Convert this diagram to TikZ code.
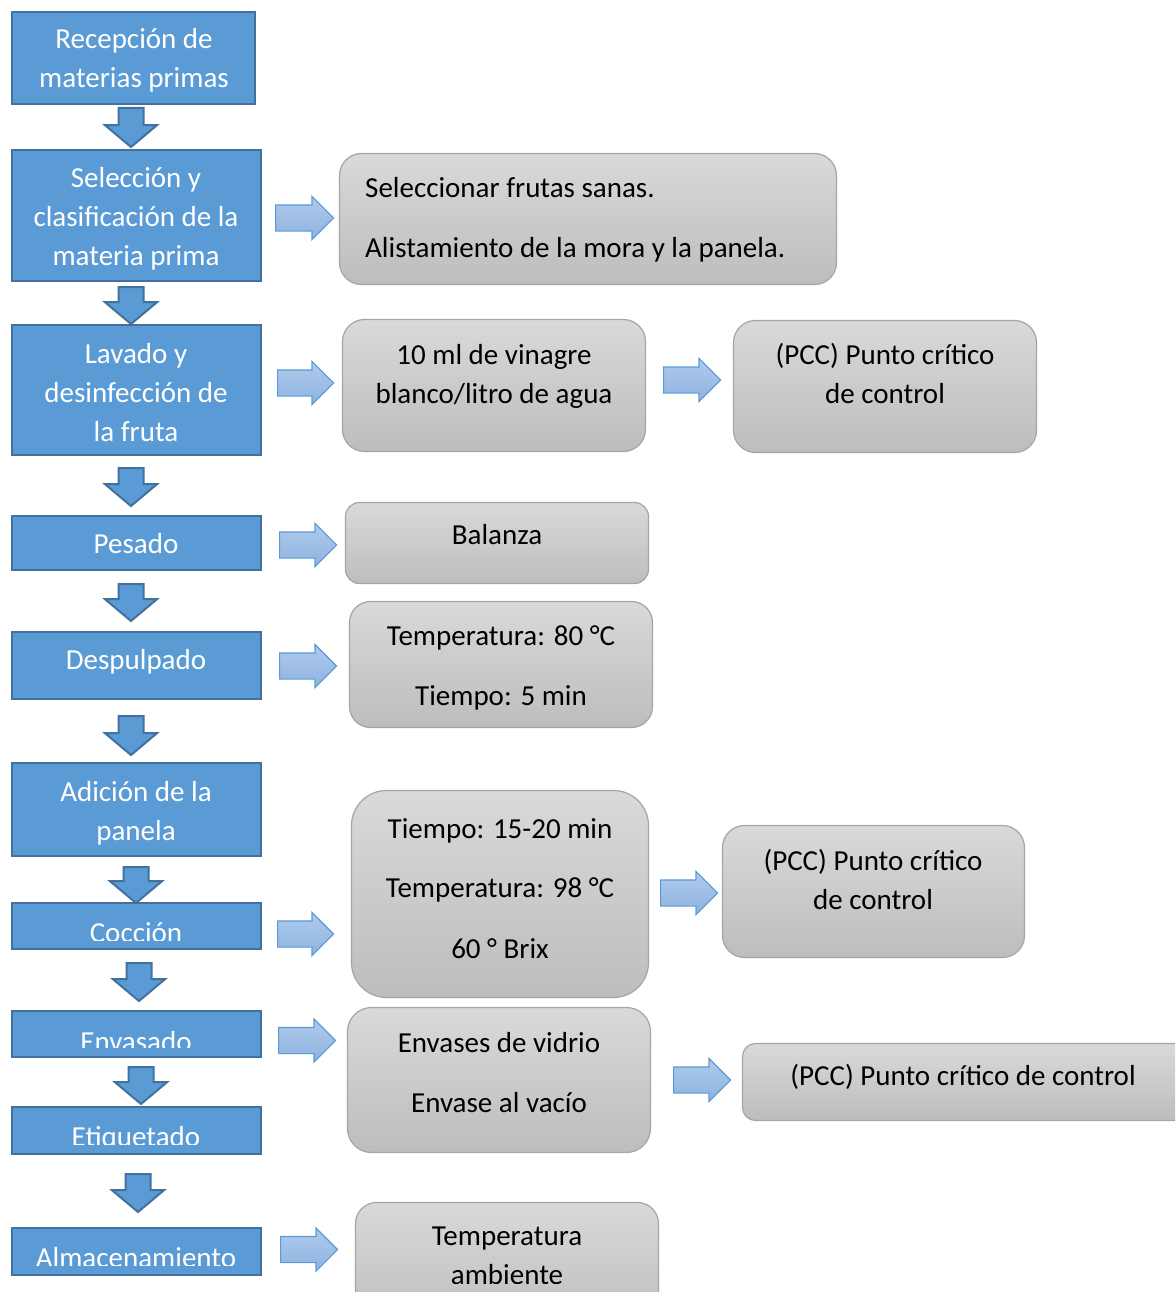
\documentclass[tikz,border=0pt]{standalone}
\usepackage{fontspec}
\setmainfont{Carlito}
\usetikzlibrary{shapes.arrows,fit}
\definecolor{bfill}{HTML}{5B9BD5}
\definecolor{bline}{HTML}{41719C}
\definecolor{gtop}{HTML}{D9D9D9}
\definecolor{gbot}{HTML}{BDBDBD}
\definecolor{gline}{HTML}{A5A5A5}
\definecolor{rtop}{HTML}{B0CBEC}
\definecolor{rbot}{HTML}{8DB2E0}
\definecolor{rline}{HTML}{5B9BD5}
\tikzset{
  bbox/.style={draw=bline, line width=2.5pt, fill=bfill, inner sep=0pt},
  gbox/.style={draw=gline, line width=1.2pt, top color=gtop, bottom color=gbot, inner sep=0pt},
  wtxt/.style={text=white, align=center, inner sep=0pt, anchor=base, font=\fontsize{29}{39}\selectfont},
  ktxt/.style={text=black, align=center, inner sep=0pt, anchor=base, font=\fontsize{29}{39}\selectfont},
  darr/.style={single arrow, draw=bline, fill=bfill, line width=2pt, rotate=-90, anchor=tail,
    inner xsep=0pt, inner ysep=11.5pt, single arrow head extend=13.5pt, single arrow tip angle=100,
    single arrow head indent=0pt},
  rarr/.style={single arrow, draw=rline, top color=rtop, bottom color=rbot, line width=1.2pt, anchor=tail,
    inner xsep=0pt, inner ysep=12.5pt, single arrow head extend=8.5pt, single arrow head indent=0pt,
    minimum height=57pt},
}
\begin{document}
\begin{tikzpicture}[x=1pt,y=-1pt]
\useasboundingbox (0,0) rectangle (1175,1292);
\clip (0,0) rectangle (1175,1292);

% blue process boxes
\node[bbox, fit={(12,12)(255,104)}] (b1) {};
\node[bbox, fit={(12,150)(261,281)}] (b2) {};
\node[bbox, fit={(12,325)(261,455)}] (b3) {};
\node[bbox, fit={(12,516)(261,570)}] (b4) {};
\node[bbox, fit={(12,632)(261,699)}] (b5) {};
\node[bbox, fit={(12,763)(261,856)}] (b6) {};
\node[bbox, fit={(12,903)(261,949)}] (b7) {};
\node[bbox, fit={(12,1011)(261,1057)}] (b8) {};
\node[bbox, fit={(12,1107)(261,1154)}] (b9) {};
\node[bbox, fit={(12,1228)(261,1275)}] (b10) {};

\node[wtxt] (tb1) at (134,88) {Recepción de\\materias primas};
\node[wtxt] (tb2) at (136,265) {Selección y\\clasificación de la\\materia prima};
\node[wtxt] (tb3) at (136,441) {Lavado y\\desinfección de\\la fruta};
\node[wtxt] (tb4) at (136,553) {Pesado};
\node[wtxt] (tb5) at (136,669) {Despulpado};
\node[wtxt] (tb6) at (136,840) {Adición de la\\panela};
\begin{scope}
  \clip (12,903) rectangle (261,940);
  \node[wtxt] (tb7) at (136,942) {Cocción};
\end{scope}
\begin{scope}
  \clip (12,1011) rectangle (261,1047);
  \node[wtxt] (tb8) at (136,1051) {Envasado};
\end{scope}
\begin{scope}
  \clip (12,1107) rectangle (261,1144);
  \node[wtxt] (tb9) at (136,1146) {Etiquetado};
\end{scope}
\begin{scope}
  \clip (12,1228) rectangle (261,1265);
  \node[wtxt] (tb10) at (136,1267) {Almacenamiento};
\end{scope}

% down arrows
\node[darr, minimum height=39pt] (d1) at (131,107) {};
\node[darr, minimum height=37pt] (d2) at (131,286) {};
\node[darr, minimum height=38pt] (d3) at (131,467) {};
\node[darr, minimum height=37pt] (d4) at (131,583) {};
\node[darr, minimum height=39pt] (d5) at (131,715) {};
\node[darr, minimum height=36pt] (d6) at (136,866) {};
\node[darr, minimum height=38pt] (d7) at (139,962) {};
\node[darr, minimum height=37pt] (d8) at (141,1066) {};
\node[darr, minimum height=38pt] (d9) at (138,1173) {};

% gray info boxes
\node[gbox, rounded corners=22pt, fit={(339.5,153.5)(836.5,284.5)}] (g1) {};
\node[gbox, rounded corners=22pt, fit={(342.5,319.5)(645.5,451.5)}] (g2) {};
\node[gbox, rounded corners=22pt, fit={(733.5,320.5)(1036.5,452.5)}] (g3) {};
\node[gbox, rounded corners=14pt, fit={(345.5,502.5)(648.5,583.5)}] (g4) {};
\node[gbox, rounded corners=21pt, fit={(349.5,601.5)(652.5,727.5)}] (g5) {};
\node[gbox, rounded corners=35pt, fit={(351.5,790.5)(648.5,997.5)}] (g6) {};
\node[gbox, rounded corners=22pt, fit={(722.5,825.5)(1024.5,957.5)}] (g7) {};
\node[gbox, rounded corners=24pt, fit={(347.5,1007.5)(650.5,1152.5)}] (g8) {};
\node[gbox, rounded corners=13pt, fit={(742.5,1043.5)(1190,1120.5)}] (g9) {};
\node[gbox, rounded corners=21pt, fit={(355.5,1202.5)(658.5,1330)}] (g10) {};

\node[ktxt, align=left, anchor=base west] (tg1) at (365,257) {Seleccionar frutas sanas.\\[21pt]Alistamiento de la mora y la panela.};
\node[ktxt] (tg2) at (494,403) {10 ml de vinagre\\blanco/litro de agua};
\node[ktxt] (tg3) at (885,403) {(PCC) Punto crítico\\de control};
\node[ktxt] (tg4) at (497,544) {Balanza};
\node[ktxt] (tg5) at (501,705) {Temperatura: 80 °C\\[21pt]Tiempo: 5 min};
\node[ktxt] (tg6) at (500,958) {Tiempo: 15-20 min\\[20pt]Temperatura: 98 °C\\[22pt]60 ° Brix};
\node[ktxt] (tg7) at (873,909) {(PCC) Punto crítico\\de control};
\node[ktxt] (tg8) at (499,1112) {Envases de vidrio\\[21pt]Envase al vacío};
\node[ktxt] (tg9) at (963,1085) {(PCC) Punto crítico de control};
\begin{scope}
  \clip (355,1202) rectangle (659,1283);
  \node[ktxt] (tg10) at (507,1284) {Temperatura\\ambiente};
\end{scope}

% right arrows
\node[rarr, minimum height=58pt] (r1) at (275,218) {};
\node[rarr, minimum height=56pt] (r2) at (277,383) {};
\node[rarr] (r3) at (279,545) {};
\node[rarr] (r4) at (279,666) {};
\node[rarr, minimum height=56pt] (r5) at (277,934) {};
\node[rarr] (r6) at (278,1040.5) {};
\node[rarr] (r7) at (280,1249.5) {};
\node[rarr] (r8) at (663,380) {};
\node[rarr] (r9) at (660,893) {};
\node[rarr] (r10) at (673,1080) {};
\end{tikzpicture}
\end{document}
